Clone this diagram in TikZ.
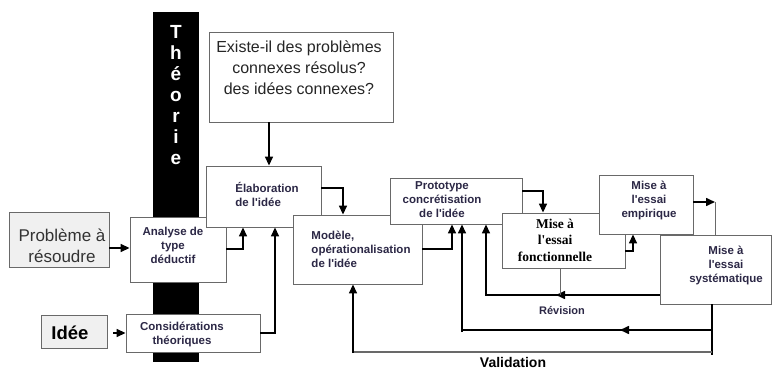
\documentclass[tikz,border=0pt]{standalone}
\usepackage{fontspec}
\setmainfont{Liberation Sans}
\newfontfamily\timesbf{Liberation Serif}
\usetikzlibrary{arrows.meta,calc}
\definecolor{txt}{RGB}{44,40,70}
\definecolor{edge}{RGB}{105,105,105}
\definecolor{pale}{RGB}{240,240,240}
\newcommand\apo{\textquotesingle}
\begin{document}
\begin{tikzpicture}[x=1pt,y=-1pt,
  box/.style={draw=edge,line width=0.9pt,fill=white,inner sep=0pt},
  graybox/.style={box,fill=pale},
  lab/.style={inner sep=0pt,text=txt,font=\bfseries\fontsize{11.5}{14}\selectfont},
  arr/.style={line width=1.6pt,-{Triangle[length=9pt,width=8pt]}},
  ln/.style={line width=1.6pt}]
\useasboundingbox (0,0) rectangle (772,369);
\fill[white] (0,0) rectangle (772,369);
% Theorie bar
\node[fill=black,minimum width=46pt,minimum height=350pt,inner sep=0pt,anchor=north west] (bar) at (153,12) {};
\node[text=white,font=\bfseries\fontsize{19}{21}\selectfont,align=center,inner sep=0pt] (theo) at (176,95) {T\\h\\é\\o\\r\\i\\e};
% boxes
\node[box,minimum width=184pt,minimum height=90pt] (q) at (301,77) {};
\node[box,minimum width=96pt,minimum height=65pt] (ana) at (178,249.5) {};
\node[box,minimum width=115pt,minimum height=61pt] (elab) at (263.5,196.5) {};
\node[box,minimum width=129pt,minimum height=69pt] (mod) at (357.5,249.5) {};
\node[box,minimum width=132pt,minimum height=46pt] (proto) at (456,201) {};
\node[box,minimum width=123pt,minimum height=55pt] (fonc) at (563.5,240.5) {};
\node[box,minimum width=94pt,minimum height=59pt] (emp) at (646,204.5) {};
\node[box,minimum width=111pt,minimum height=69pt] (sys) at (715.5,269.5) {};
\node[graybox,minimum width=100pt,minimum height=55pt] (prob) at (59,239.5) {};
\node[graybox,minimum width=66pt,minimum height=33pt] (idee) at (74,331.5) {};
\node[box,minimum width=134pt,minimum height=38pt] (cons) at (193,333) {};
% box texts
\node[inner sep=0pt,align=center,text=black!85,font=\fontsize{16}{21}\selectfont] (qt) at (299,68) {Existe-il des problèmes\\connexes résolus?\\des idées connexes?};
\node[lab,align=center] (anat) at (173,245) {Analyse de\\type\\déductif};
\node[lab,align=left] (elabt) at (267,194) {Élaboration\\de l\apo idée};
\node[lab,align=left] (modt) at (361,249) {Modèle,\\opérationalisation\\de l\apo idée};
\node[lab,align=center] (protot) at (442,200) {Prototype\\concrétisation\\de l\apo idée};
\node[lab,align=center,text=black,font=\timesbf\bfseries\fontsize{13.5}{16.5}\selectfont] (fonct) at (555,240) {Mise à\\l\apo essai\\fonctionnelle};
\node[lab,align=center] (empt) at (649,200) {Mise à\\l\apo essai\\empirique};
\node[lab,align=center] (syst) at (726,265) {Mise à\\l\apo essai\\systématique};
\node[inner sep=0pt,align=center,font=\fontsize{17}{21.5}\selectfont,text=black!80] (probt) at (62,246) {Problème à\\résoudre};
\node[inner sep=0pt,font=\bfseries\fontsize{18.5}{20}\selectfont] (ideet) at (70,333) {Idée};
\node[lab,align=center] (const) at (182,334) {Considérations\\théoriques};
% labels
\node[lab,font=\bfseries\fontsize{11}{12}\selectfont] (rev) at (562,311) {Révision};
\node[inner sep=0pt,font=\bfseries\fontsize{14}{16}\selectfont] (val) at (513,362) {Validation};
% coordinates
\coordinate (empout) at (715,202);
\coordinate (vcorner) at (712,355);
% connectors
\draw[arr] (q.south -| 269,0) -- (elab.north -| 269,0);
\draw[arr] (prob.east |- 0,248) -- (ana.west |- 0,248);
\draw[arr,shorten <=6pt] (idee.east |- 0,333) -- (cons.west |- 0,333);
\draw[arr] (ana.east |- 0,249) -| (elab.south -| 243,0);
\draw[arr] (cons.east |- 0,333) -| (elab.south -| 275,0);
\draw[arr] (elab.east |- 0,188) -| (mod.north -| 343,0);
\draw[arr] (mod.east |- 0,249) -| (proto.south -| 452,0);
\draw[arr] (proto.east |- 0,191) -| (fonc.north -| 543,0);
\draw[arr] (fonc.east |- 0,251) -| (emp.south -| 633,0);
\draw[arr] (emp.east |- 0,202) -- (empout);
\draw[edge,line width=1pt] (empout) -- (sys.north -| empout);
% revision loop
\draw[ln] (sys.west |- 0,295) -- (486,295) -- (486,235);
\draw[arr] (486,240) -- (proto.south -| 486,0);
\draw[arr] (sys.west |- 0,295) -- (556,295);
\draw[edge,line width=1pt] (fonc.south -| 560,0) -- (560,295);
% validation loops
\draw[ln] (sys.south -| vcorner) -- (vcorner);
\draw[ln] (vcorner |- 0,330) -- (462,330);
\draw[arr] (vcorner |- 0,330) -- (620,330);
\draw[arr] (462,332) -- (proto.south -| 462,0);
\draw[edge,line width=1.5pt] (vcorner |- 0,352) -- (353,352);
\draw[arr] (353,353) -- (mod.south -| 353,0);
\end{tikzpicture}
\end{document}
